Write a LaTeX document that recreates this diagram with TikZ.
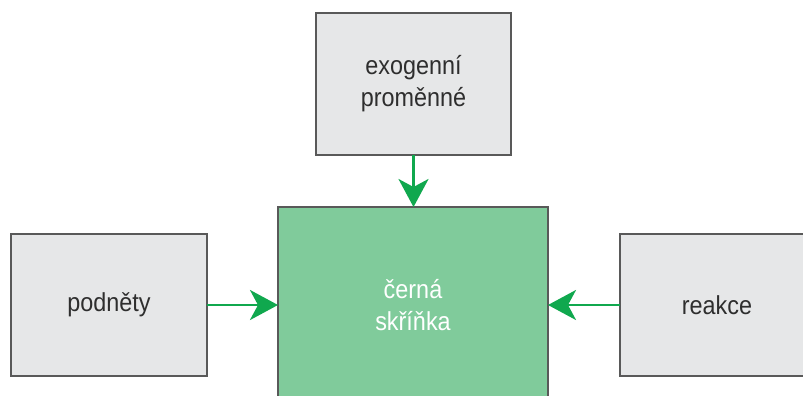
\documentclass[tikz,border=0pt]{standalone}
\usepackage{fontspec}
\setmainfont{Liberation Sans}[FakeStretch=0.9]
\usetikzlibrary{arrows.meta}
\definecolor{boxgray}{HTML}{E6E7E8}
\definecolor{edgegray}{HTML}{595959}
\definecolor{boxgreen}{HTML}{80CB9B}
\definecolor{arrowgreen}{HTML}{10A84E}
\definecolor{textgray}{HTML}{2E2E2E}
\begin{document}
\begin{tikzpicture}[x=1pt,y=-1pt,
  graybox/.style={draw=edgegray,line width=1.5pt,fill=boxgray},
  greenbox/.style={draw=edgegray,line width=1.5pt,fill=boxgreen},
  lbl/.style={font=\fontsize{26}{32}\selectfont,align=center,text=textgray},
  conn/.style={draw=arrowgreen,line width=2.6pt,-{Stealth[length=28pt,width=30pt,inset=8pt]}}]
\useasboundingbox (0,0) rectangle (803,396);
\clip (0,0) rectangle (803,396);
\fill[white] (0,0) rectangle (803,396);
% boxes
\draw[graybox] (316,13) rectangle (511,155);
\node[lbl] (exo) at (413.5,84) {exogenní\\proměnné};
\coordinate (exoS) at (413.5,155);
\draw[greenbox] (278,207) rectangle (548,404);
\node[lbl,text=white] (bb) at (413,305) {černá\\skříňka};
\coordinate (bbN) at (413.5,207);
\coordinate (bbW) at (278,305);
\coordinate (bbE) at (548,305);
\draw[graybox] (11,234) rectangle (207,376);
\node[lbl] (pod) at (109,305) {podněty};
\coordinate (podE) at (207,305);
\draw[graybox] (620,234) rectangle (814,376);
\node[lbl] (rea) at (717,305) {reakce};
\coordinate (reaW) at (620,305);
% connectors
\draw[conn] (exoS) -- (bbN);
\draw[conn] (podE) -- (bbW);
\draw[conn] (reaW) -- (bbE);
\end{tikzpicture}
\end{document}
